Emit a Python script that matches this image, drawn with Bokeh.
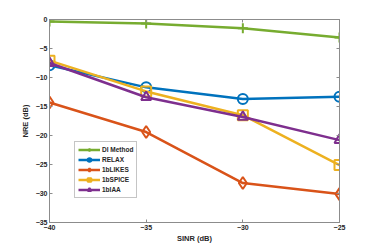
from bokeh.plotting import figure
from bokeh.models import LinearAxis, Range1d, FixedTicker, Legend
from bokeh.embed import file_html
from bokeh.resources import INLINE

sinr = [-40, -35, -30, -25]
di_method = [-0.35, -0.7, -1.5, -3.1]
relax = [-7.9, -11.7, -13.7, -13.3]
likes = [-14.3, -19.4, -28.2, -30.1]
spice = [-7.1, -12.4, -16.5, -25.1]
iaa = [-7.5, -13.4, -16.8, -20.8]

x_ticks = [-40, -35, -30, -25]
y_ticks = [-35, -30, -25, -20, -15, -10, -5, 0]

FONT = "Liberation Sans"
TXT = "#262626"
AX = "#8c8c8c"

p = figure(frame_width=290, frame_height=203, output_backend="svg", toolbar_location=None,
           x_range=Range1d(-40, -25), y_range=Range1d(-35, 0),
           min_border_left=49, min_border_right=35, min_border_top=19, min_border_bottom=27)
p.xgrid.visible = False
p.ygrid.visible = False
p.outline_line_color = AX
p.background_fill_color = "white"

series = [
    ("DI Method", di_method, "#77AC30", "cross"),
    ("RELAX", relax, "#0072BD", "circle"),
    ("1bLIKES", likes, "#D95319", "diamond"),
    ("1bSPICE", spice, "#EDB120", "square"),
    ("1bIAA", iaa, "#7E2F8E", "triangle"),
]
items = []
for name, ys, col, mk in series:
    r1 = p.line(sinr, ys, line_color=col, line_width=2.5)
    size = 10 if mk != "diamond" else 12
    r2 = p.scatter(sinr, ys, marker=mk, size=size, line_color=col, line_width=2,
                   fill_alpha=0)
    items.append((name, [r1, r2]))

def style_axis(ax, labels=True):
    ax.axis_line_color = AX
    ax.major_tick_line_color = AX
    ax.minor_tick_line_color = None
    ax.major_tick_in = 3
    ax.major_tick_out = 0
    ax.major_label_text_font = FONT
    ax.major_label_text_font_size = "7px"
    ax.major_label_text_font_style = "bold"
    ax.major_label_text_color = TXT
    ax.major_label_standoff = 2
    ax.axis_label_text_font = FONT
    ax.axis_label_text_font_size = "7.5px"
    ax.axis_label_text_font_style = "bold"
    ax.axis_label_text_color = TXT
    ax.axis_label_standoff = 3
    if not labels:
        ax.major_label_text_color = None
        ax.major_label_text_alpha = 0

p.xaxis.ticker = FixedTicker(ticks=x_ticks)
p.yaxis.ticker = FixedTicker(ticks=y_ticks)
p.xaxis.axis_label = "SINR (dB)"
p.yaxis.axis_label = "NRE (dB)"
style_axis(p.xaxis[0])
style_axis(p.yaxis[0])
p.xaxis.axis_label_standoff = 1

ra = LinearAxis(ticker=FixedTicker(ticks=y_ticks))
style_axis(ra, labels=False)
p.add_layout(ra, "right")
ta = LinearAxis(ticker=FixedTicker(ticks=x_ticks))
style_axis(ta, labels=False)
p.add_layout(ta, "above")

leg = Legend(items=items, location=(25, 24))
leg.label_text_font = FONT
leg.label_text_font_size = "6.5px"
leg.label_text_font_style = "bold"
leg.label_text_color = TXT
leg.glyph_width = 22
leg.glyph_height = 9
leg.label_height = 9
leg.spacing = 1
leg.padding = 3
leg.margin = 0
leg.label_standoff = 2
leg.border_line_color = AX
leg.background_fill_alpha = 1
p.add_layout(leg, "center")

open("out.html", "w").write(file_html(p, INLINE))
